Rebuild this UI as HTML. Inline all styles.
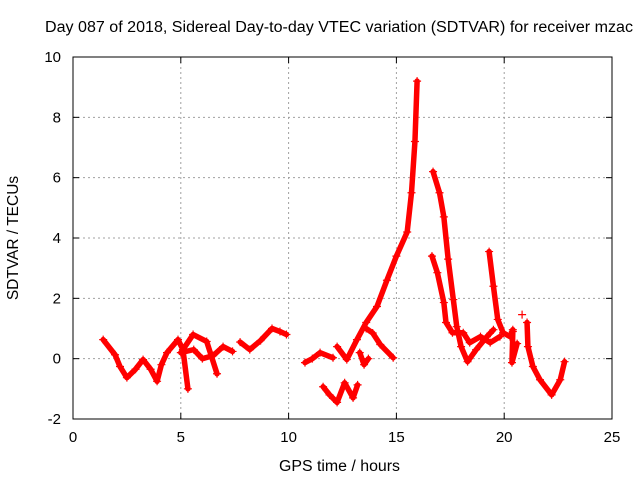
<!DOCTYPE html>
<html><head><meta charset="utf-8"><style>
html,body{margin:0;padding:0;background:#fff}
svg{display:block;font-family:"Liberation Sans",sans-serif}
</style></head><body>
<svg id="chart" width="640" height="480" viewBox="0 0 640 480">
<text x="45" y="32" font-size="15.5" textLength="588" lengthAdjust="spacingAndGlyphs" fill="#000">Day 087 of 2018, Sidereal Day-to-day VTEC variation (SDTVAR) for receiver mzac</text>
<g id="grid"></g>
<g id="axes"></g>
<g id="series"></g>
<rect x="73" y="57" width="539" height="362" fill="none" stroke="#000" stroke-width="1"/>
<text x="279" y="471" font-size="15.5" textLength="121" lengthAdjust="spacingAndGlyphs">GPS time / hours</text>
<text transform="translate(18,238) rotate(-90)" font-size="15.5" text-anchor="middle">SDTVAR / TECUs</text>
</svg>
<script>
const xTicks = [0,5,10,15,20,25];
const yTicks = [-2,0,2,4,6,8,10];
const tracks = [
 [[1.4,0.63],[1.95,0.13],[2.18,-0.26],[2.5,-0.63],[2.9,-0.35],[3.25,-0.03],[3.6,-0.35],[3.9,-0.75],[4.1,-0.2],[4.36,0.2],[4.87,0.63],[5.1,0.3],[5.57,0.8],[6.2,0.57],[6.68,-0.5]],
 [[5.1,0.3],[5.33,-1.0]],
 [[5.0,0.2],[5.6,0.3],[6.0,0.0],[6.5,0.1],[6.96,0.4],[7.4,0.24]],
 [[7.75,0.55],[8.2,0.3],[8.7,0.6],[9.23,1.0],[9.6,0.9],[9.9,0.8]],
 [[10.76,-0.13],[11.1,0.0],[11.46,0.2],[12.06,0.03]],
 [[12.25,0.4],[12.7,-0.03],[13.17,0.63],[13.6,1.2],[14.1,1.73],[14.56,2.6],[15.0,3.4],[15.5,4.2],[15.7,5.5],[15.86,7.2],[15.96,9.2]],
 [[13.6,1.0],[13.9,0.85],[14.25,0.47],[14.85,0.03]],
 [[13.3,0.2],[13.5,-0.2],[13.7,0.0]],
 [[11.6,-0.93],[11.9,-1.2],[12.25,-1.45],[12.6,-0.8],[12.99,-1.3],[13.2,-0.87]],
 [[16.7,6.2],[17.0,5.5],[17.2,4.7],[17.4,3.3],[17.64,1.96],[17.8,1.06],[18.0,0.4],[18.3,-0.1],[18.7,0.3],[19.2,0.73],[19.5,0.96]],
 [[16.65,3.4],[16.9,2.85],[17.2,1.86],[17.3,1.2],[17.6,0.86],[18.1,0.86],[18.4,0.53],[18.9,0.73],[19.35,0.53],[19.8,0.73]],
 [[19.3,3.55],[19.5,2.4],[19.7,1.3],[19.95,0.86],[20.27,0.73],[20.4,0.96]],
 [[20.4,0.9],[20.36,-0.13],[20.6,0.5]],
 [[21.06,1.2],[21.1,0.4],[21.33,-0.26],[21.66,-0.7],[22.2,-1.2],[22.6,-0.7],[22.8,-0.1]],
 [[20.83,1.46]]
];
const NS='http://www.w3.org/2000/svg';
const L=73,R=612,T=57,B=419;
function xs(h){return L+(h-0)/(25-0)*(R-L);}
function ys(v){return B-(v-(-2))/(10-(-2))*(B-T);}
const grid=document.getElementById('grid'),axes=document.getElementById('axes'),ser=document.getElementById('series');
function mk(tag,attrs,parent){const e=document.createElementNS(NS,tag);for(const k in attrs)e.setAttribute(k,attrs[k]);parent.appendChild(e);return e;}
xTicks.forEach(t=>{
 const x=xs(t);
 if(t>0&&t<25){const g=mk('line',{x1:x,y1:T,x2:x,y2:B,stroke:'#a0a0a0','stroke-dasharray':'2,3'},grid);
 
 }
 mk('line',{x1:x,y1:B,x2:x,y2:B-6,stroke:'#000'},axes);
 mk('line',{x1:x,y1:T,x2:x,y2:T+6,stroke:'#000'},axes);
 const tx=mk('text',{x:x,y:B+23,'font-size':15,'text-anchor':'middle'},axes);
 tx.textContent=t;
 
 
});
yTicks.forEach(t=>{
 const y=ys(t);
 if(t>-2&&t<10){const g=mk('line',{x1:L,y1:y,x2:R,y2:y,stroke:'#a0a0a0','stroke-dasharray':'2,3'},grid);
 
 }
 mk('line',{x1:L,y1:y,x2:L+6,y2:y,stroke:'#000'},axes);
 mk('line',{x1:R,y1:y,x2:R-6,y2:y,stroke:'#000'},axes);
 const tx=mk('text',{x:L-12,y:y+5,'font-size':15,'text-anchor':'end'},axes);
 tx.textContent=t;
 
 
});
tracks.forEach(tr=>{
 if(tr.length>1){
  const p=mk('polyline',{points:tr.map(d=>xs(d[0])+','+ys(d[1])).join(' '),fill:'none',stroke:'#ff0000','stroke-width':5.5,'stroke-linejoin':'round','stroke-linecap':'round'},ser);
  
  
 }
 tr.forEach(d=>{
  const x=xs(d[0]),y=ys(d[1]);
  const m=mk('path',{d:`M${x-4},${y}H${x+4}M${x},${y-4}V${y+4}`,stroke:'#ff0000','stroke-width':1.2},ser);
  
  
 });
});
</script>
</body></html>
